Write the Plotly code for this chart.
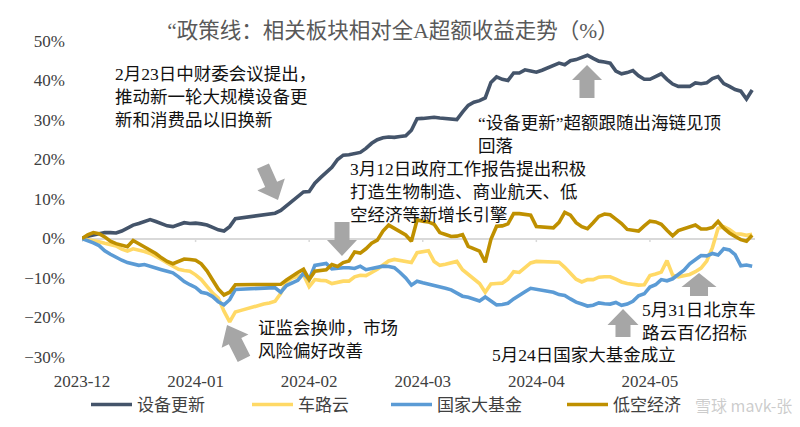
import math
import plotly.graph_objects as go

# ---------------- data (relative excess return vs. 全A, %) ----------------
day_index = list(range(119))
tick_vals = [0, 20, 40, 60, 80, 100]
tick_text = ["2023-12", "2024-01", "2024-02", "2024-03", "2024-04", "2024-05"]

series_names = ["设备更新", "车路云", "国家大基金", "低空经济"]

equipment = [0.0, 0.6, 0.9, 1.3, 1.5, 1.5, 1.4, 1.9, 2.6, 3.4,
             3.8, 4.2, 4.8, 4.3, 3.7, 3.2, 3.0, 3.6, 4.0, 3.8,
             3.9, 3.7, 3.4, 2.8, 2.2, 1.9, 3.0, 5.0, 5.2, 5.4,
             5.6, 5.7, 5.8, 6.0, 6.4, 7.1, 8.3, 9.7, 10.8, 11.8,
             11.9, 14.0, 15.4, 16.7, 18.0, 20.0, 21.1, 21.2, 21.4, 21.8,
             22.8, 24.1, 25.0, 25.5, 25.7, 25.6, 25.8, 26.0, 27.4, 30.3,
             30.4, 30.5, 30.7, 30.5, 30.4, 30.2, 30.1, 32.0, 33.7, 34.5,
             34.9, 35.6, 39.5, 40.9, 40.3, 40.0, 41.9, 41.9, 42.7, 42.4,
             42.1, 42.6, 43.2, 43.7, 44.4, 44.0, 45.0, 45.3, 45.9, 46.4,
             45.6, 44.9, 44.7, 44.4, 42.4, 41.7, 42.0, 42.5, 41.2, 40.3,
             40.3, 41.0, 41.7, 40.3, 39.1, 38.5, 38.5, 38.5, 39.4, 39.2,
             39.4, 40.5, 41.0, 39.2, 38.5, 37.7, 37.3, 35.3, 37.6]

vehicle_road_cloud = [0.0, -0.2, -0.5, -0.8, -1.2, -1.6, -1.9, -2.7, -3.2, -2.6,
                      -2.9, -3.3, -3.8, -4.5, -5.3, -6.2, -7.0, -7.8, -8.1, -8.3,
                      -9.2, -10.4, -12.1, -13.8, -15.1, -18.4, -21.1, -18.6, -18.2, -17.8,
                      -17.2, -16.9, -16.6, -16.3, -15.9, -13.9, -11.0, -10.0, -9.5, -9.2,
                      -12.2, -10.4, -10.6, -10.7, -11.4, -11.1, -10.8, -10.8, -9.7, -9.3,
                      -9.4, -8.6, -7.8, -6.7, -5.7, -5.3, -5.5, -5.7, -6.1, -3.6,
                      -3.4, -3.1, -5.8, -6.8, -6.5, -6.2, -5.8, -7.9, -9.1, -10.2,
                      -11.4, -13.6, -11.5, -11.4, -11.3, -10.3, -8.4, -8.6, -7.5, -6.2,
                      -5.8, -5.8, -5.8, -5.8, -6.0, -7.3, -8.8, -10.3, -11.0, -10.4,
                      -10.4, -9.8, -9.7, -9.7, -10.3, -11.0, -11.4, -11.6, -11.8, -11.7,
                      -9.4, -9.0, -8.5, -5.6, -9.3, -9.7, -9.4, -9.1, -8.4, -7.5,
                      -5.7, -2.3, 2.6, 3.0, 2.3, 1.2, 1.1, 0.8, 1.1]

big_fund = [0.0, -0.5, -1.1, -1.8, -3.1, -4.0, -4.8, -5.5, -6.1, -6.4,
            -6.8, -6.6, -7.1, -7.6, -7.9, -8.3, -8.7, -9.7, -10.9, -11.7,
            -12.4, -13.6, -13.9, -14.7, -16.0, -16.8, -15.5, -12.9, -12.8, -12.8,
            -12.7, -12.7, -12.6, -12.5, -12.5, -13.6, -11.9, -11.3, -10.6, -8.8,
            -10.4, -6.8, -6.5, -6.3, -7.7, -7.5, -7.4, -7.4, -7.6, -7.0,
            -7.9, -7.6, -7.3, -7.0, -7.1, -7.4, -8.6, -10.0, -11.8, -10.8,
            -11.2, -11.5, -11.9, -12.2, -12.6, -13.0, -13.7, -14.6, -14.9, -15.3,
            -15.8, -14.8, -15.7, -16.8, -16.7, -16.4, -15.3, -14.3, -13.5, -12.6,
            -12.9, -13.2, -13.4, -13.6, -14.2, -14.4, -15.3, -16.1, -16.6, -17.1,
            -16.9, -16.3, -16.5, -16.6, -16.2, -16.9, -16.6, -15.9, -14.5, -14.0,
            -12.3, -11.7, -10.4, -10.7, -10.2, -9.2, -8.0, -6.4, -5.4, -4.3,
            -4.4, -3.8, -4.2, -2.6, -2.9, -4.1, -6.9, -6.7, -7.0]

low_altitude = [0.0, 0.9, 1.5, 1.2, 0.4, -0.7, -1.3, -1.8, -2.1, -0.5,
                -1.3, -2.2, -3.0, -3.8, -4.9, -5.8, -6.4, -5.7, -5.2, -5.3,
                -5.5, -6.4, -8.2, -10.5, -12.8, -14.3, -13.6, -11.7, -11.7, -11.7,
                -11.7, -11.7, -11.7, -11.7, -11.6, -11.6, -10.5, -9.5, -8.6, -7.8,
                -10.4, -8.3, -8.1, -7.9, -6.6, -7.1, -6.1, -5.7, -3.4, -3.7,
                -2.6, -1.2, -0.4, 1.9, 3.4, 2.6, 1.6, 0.9, -0.7, 4.7,
                4.4, 4.2, 3.6, 1.5, 1.0, 0.5, 0.6, 1.0, -2.0, -2.6,
                -3.2, -6.0, -0.2, 3.1, 3.2, 3.7, 6.3, 6.3, 6.2, 5.9,
                3.0, 2.9, 2.8, 2.7, 4.1, 6.6, 5.9, 4.0, 3.0, 2.5,
                4.0, 5.6, 6.2, 6.0, 4.9, 3.8, 2.3, 2.1, 1.9, 3.2,
                4.4, 4.2, 3.6, 2.1, 0.7, 2.0, 2.4, 2.9, 3.4, 2.4,
                2.4, 2.8, 4.3, 2.6, 1.4, 0.5, -0.3, -0.7, 0.8]

# ---------------- style ----------------
colors = ["#44546A", "#FFD966", "#5B9BD5", "#BF9000"]
FONT = "'Liberation Serif', 'Times New Roman', 'Noto Sans CJK SC', serif"
W_PX, H_PX = 800, 427
L, R, T, B = 82, 45, 41, 70
PLOT_W = W_PX - L - R
PLOT_H = H_PX - T - B


def paper(xp, yp):
    return (xp - L) / PLOT_W, (H_PX - B - yp) / PLOT_H


fig = go.Figure()
all_series = [equipment, vehicle_road_cloud, big_fund, low_altitude]
legend_ids = ["legend", "legend2", "legend3", "legend4"]
for name, vals, col, lg in zip(series_names, all_series, colors, legend_ids):
    fig.add_trace(go.Scatter(x=day_index, y=vals, mode="lines", name=name,
                             line=dict(color=col, width=3.6), legend=lg,
                             hoverinfo="skip"))

# small tick marks on the zero line
shapes = []
for tv in tick_vals:
    shapes.append(dict(type="line", xref="x", yref="y", x0=tv, x1=tv, y0=0, y1=-0.9,
                       line=dict(color="#D9D9D9", width=1.5), layer="below"))


def arrow(tail, tip, shaft_w, head_w, head_len):
    (x0, y0), (x1, y1) = tail, tip
    dx, dy = x1 - x0, y1 - y0
    n = math.hypot(dx, dy)
    ux, uy = dx / n, dy / n
    nx, ny = -uy, ux
    bx, by = x1 - ux * head_len, y1 - uy * head_len
    pts = [(x0 + nx * shaft_w / 2, y0 + ny * shaft_w / 2),
           (bx + nx * shaft_w / 2, by + ny * shaft_w / 2),
           (bx + nx * head_w / 2, by + ny * head_w / 2),
           (x1, y1),
           (bx - nx * head_w / 2, by - ny * head_w / 2),
           (bx - nx * shaft_w / 2, by - ny * shaft_w / 2),
           (x0 - nx * shaft_w / 2, y0 - ny * shaft_w / 2)]
    pp = [paper(a, b) for a, b in pts]
    path = "M " + " L ".join(f"{a:.4f},{b:.4f}" for a, b in pp) + " Z"
    return dict(type="path", xref="paper", yref="paper", path=path,
                fillcolor="#A6A6A6", line=dict(width=0), layer="above")


shapes += [
    arrow((263, 166), (278, 200), 13, 30, 17),
    arrow((342, 222), (342, 256), 15, 30, 16),
    arrow((587, 98), (587, 65), 15, 30, 15),
    arrow((244, 359), (227, 325), 14, 30, 18),
    arrow((623, 337), (623, 309), 15, 31, 16),
    arrow((699, 296), (699, 273), 18, 35, 14),
]

notes = [
    (113, 62, "2月23日中财委会议提出，<br>推动新一轮大规模设备更<br>新和消费品以旧换新"),
    (476, 111, "“设备更新”超额跟随出海链见顶<br>回落"),
    (348, 157, "3月12日政府工作报告提出积极<br>打造生物制造、商业航天、低<br>空经济等新增长引擎"),
    (256, 316, "证监会换帅，市场<br>风险偏好改善"),
    (490, 343, "5月24日国家大基金成立"),
    (640, 298, "5月31日北京车<br>路云百亿招标"),
]
annotations = []
for xp, yp, txt in notes:
    ax, ay = paper(xp, yp)
    annotations.append(dict(x=ax, y=ay, xref="paper", yref="paper", text=txt,
                            showarrow=False, xanchor="left", yanchor="top",
                            align="left", font=dict(family=FONT, size=17.5, color="#111111")))

wx, wy = paper(794, 405)
annotations.append(dict(x=wx, y=wy, xref="paper", yref="paper", text="雪球 mavk-张",
                        showarrow=False, xanchor="right", yanchor="middle",
                        font=dict(family="Noto Sans CJK SC, sans-serif", size=16,
                                  color="rgba(170,170,170,0.6)")))

layout_legends = {}
legend_left = [92, 253, 392, 568]
for lg, lx in zip(legend_ids, legend_left):
    px_, py_ = paper(lx - 6, 405)
    layout_legends[lg] = dict(x=px_, y=py_, xanchor="left", yanchor="middle",
                              orientation="h", bgcolor="rgba(0,0,0,0)",
                              font=dict(family=FONT, size=17, color="#404040"),
                              itemwidth=41)

fig.update_layout(
    width=W_PX, height=H_PX,
    margin=dict(l=L, r=R, t=T, b=B, autoexpand=False),
    paper_bgcolor="white", plot_bgcolor="white",
    title=dict(text="“政策线：相关板块相对全A超额收益走势（%）", x=393 / W_PX, y=1 - 30 / H_PX,
               xanchor="center", yanchor="middle",
               font=dict(family=FONT, size=21.5, color="#595959")),
    xaxis=dict(range=[0, 118.5], tickvals=tick_vals, ticktext=tick_text,
               showgrid=False, zeroline=False, showline=False, ticks="",
               ticklabelstandoff=12, automargin=False,
               tickfont=dict(family=FONT, size=17, color="#404040")),
    yaxis=dict(range=[-30, 50], dtick=10, ticksuffix="%", showgrid=False,
               zeroline=True, zerolinecolor="#D9D9D9", zerolinewidth=2,
               showline=False, ticks="", ticklabelstandoff=16, automargin=False,
               tickfont=dict(family=FONT, size=17, color="#404040")),
    shapes=shapes,
    annotations=annotations,
    showlegend=True,
    **layout_legends,
)

fig.write_html("out.html", config={"displayModeBar": False},
               post_script="document.body.style.margin='0';")
